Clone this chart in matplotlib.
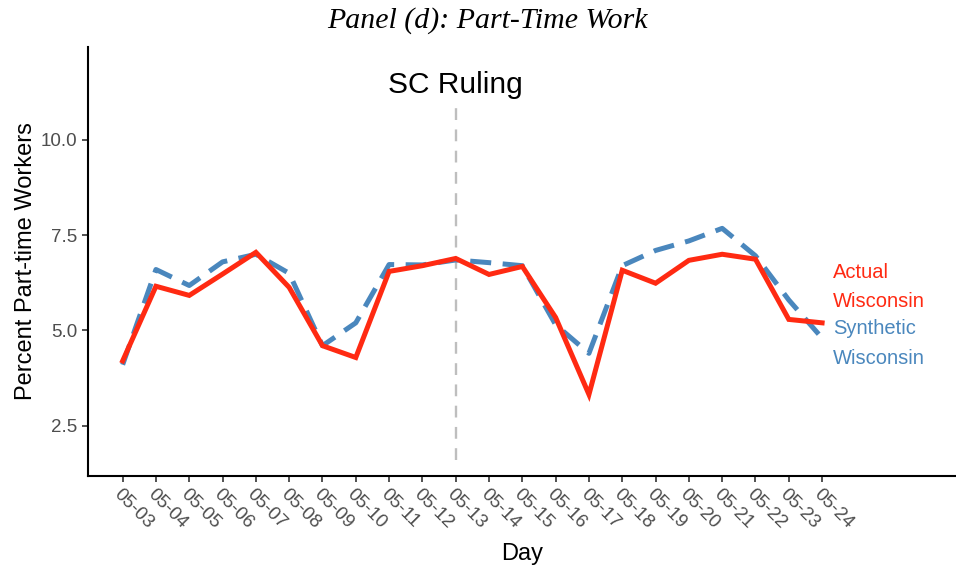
import matplotlib
matplotlib.use("Agg")
import matplotlib.pyplot as plt

days = ["05-03", "05-04", "05-05", "05-06", "05-07", "05-08", "05-09", "05-10",
        "05-11", "05-12", "05-13", "05-14", "05-15", "05-16", "05-17", "05-18",
        "05-19", "05-20", "05-21", "05-22", "05-23", "05-24"]
actual = [4.2, 6.16, 5.92, 6.48, 7.05, 6.13, 4.6, 4.29, 6.55, 6.7, 6.89, 6.47,
          6.68, 5.34, 3.32, 6.58, 6.24, 6.84, 7.0, 6.87, 5.29, 5.2]
synthetic = [4.1, 6.6, 6.18, 6.8, 7.0, 6.5, 4.6, 5.2, 6.73, 6.72, 6.85, 6.78,
             6.7, 5.15, 4.4, 6.7, 7.1, 7.35, 7.68, 6.96, 5.8, 4.8]
yticks = [2.5, 5.0, 7.5, 10.0]
ruling_day = "05-13"

plt.rcParams['font.family'] = ['Liberation Sans', 'DejaVu Sans']

W, H = 956, 566
fig = plt.figure(figsize=(W / 100, H / 100), dpi=100)
ax = fig.add_axes([88 / W, (H - 476) / H, (W - 88) / W, (476 - 47) / H])

x = list(range(len(days)))
red = "#FF2A12"
blue = "#4A87BD"
ax.plot(x, synthetic, color=blue, lw=3.6, dashes=(4.2, 2.3), solid_capstyle='butt',
        dash_capstyle='butt', zorder=3)
ax.plot(x, actual, color=red, lw=3.6, solid_joinstyle='miter', zorder=4)

xr = days.index(ruling_day)
ax.vlines(xr, 1.6, 10.87, colors="#BEBEBE", lw=1.7, linestyles=(0, (5, 4)), zorder=2)
ax.text(xr, 11.45, "SC Ruling", fontsize=21.5, ha='center', va='center', color='black')

lx = 21.33
ax.text(lx, 6.52, "Actual", color=red, fontsize=14.5, ha='left', va='center')
ax.text(lx, 5.75, "Wisconsin", color=red, fontsize=14.5, ha='left', va='center')
ax.text(lx, 5.04, "Synthetic", color=blue, fontsize=14.5, ha='left', va='center')
ax.text(lx, 4.27, "Wisconsin", color=blue, fontsize=14.5, ha='left', va='center')

ax.set_xlim(-1.04, 25.02)
ax.set_ylim(1.18, 12.44)
ax.set_yticks(yticks)
ax.set_yticklabels([f"{v:.1f}" for v in yticks])
ax.set_xticks(x)
ax.set_xticklabels(days, rotation=-45, ha='left', va='top', rotation_mode='anchor')

for s in ['top', 'right']:
    ax.spines[s].set_visible(False)
for s in ['left', 'bottom']:
    ax.spines[s].set_linewidth(1.5)
    ax.spines[s].set_color('black')

ax.tick_params(axis='both', which='both', length=4, width=1.2, color='#333333',
               labelcolor='#4D4D4D', labelsize=13.5)
ax.tick_params(axis='x', pad=3)

ax.set_xlabel("Day", fontsize=17, color='black', labelpad=8)
ax.set_ylabel("Percent Part-time Workers", fontsize=17, color='black', labelpad=3)

fig.text(487 / W, 1 - 21 / H, "Panel (d): Part-Time Work", fontsize=21.5, style='italic',
         family='Liberation Serif', ha='center', va='center')

fig.savefig("out.png", dpi=100)
